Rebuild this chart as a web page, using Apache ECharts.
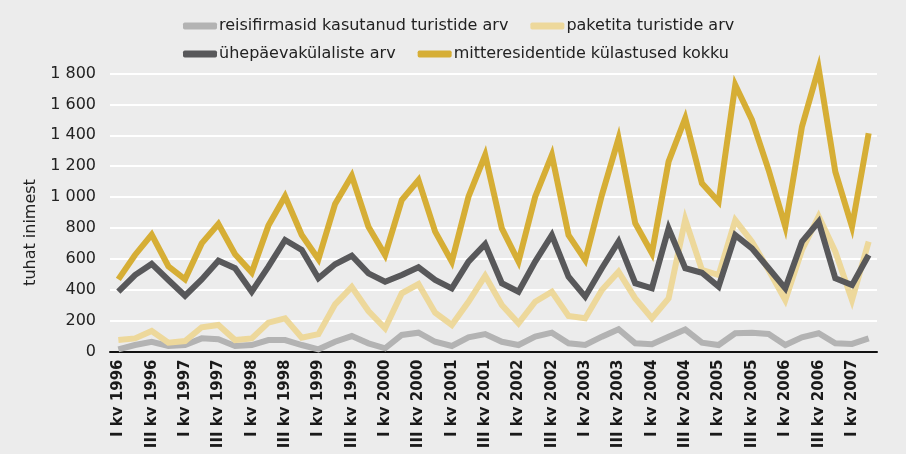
<!DOCTYPE html>
<html>
<head>
<meta charset="utf-8">
<script src="https://cdn.jsdelivr.net/npm/echarts@6/dist/echarts.min.js"></script>
<style>
html,body{margin:0;padding:0;background:#ececec;}
#chart{width:906px;height:454px;}
</style>
</head>
<body>
<div id="chart"></div>
<script>
// Categories (quarters)
var categories = [
  "I kv 1996","II kv 1996","III kv 1996","IV kv 1996",
  "I kv 1997","II kv 1997","III kv 1997","IV kv 1997",
  "I kv 1998","II kv 1998","III kv 1998","IV kv 1998",
  "I kv 1999","II kv 1999","III kv 1999","IV kv 1999",
  "I kv 2000","II kv 2000","III kv 2000","IV kv 2000",
  "I kv 2001","II kv 2001","III kv 2001","IV kv 2001",
  "I kv 2002","II kv 2002","III kv 2002","IV kv 2002",
  "I kv 2003","II kv 2003","III kv 2003","IV kv 2003",
  "I kv 2004","II kv 2004","III kv 2004","IV kv 2004",
  "I kv 2005","II kv 2005","III kv 2005","IV kv 2005",
  "I kv 2006","II kv 2006","III kv 2006","IV kv 2006",
  "I kv 2007","II kv 2007"
];

// Series names
var nameTourFirm = "reisifirmasid kasutanud turistide arv";
var namePackageless = "paketita turistide arv";
var nameDayVisitors = "ühepäevakülaliste arv";
var nameTotal = "mitteresidentide külastused kokku";

// Values (thousand persons)
var tourFirm = [14,42,63,36, 42,85,79,36, 42,74,74,42, 14,63,100,53, 21,107,122,63, 36,92,113,63, 42,96,122,53, 42,96,144,53, 47,96,142,57, 42,118,122,113, 42,92,118,53, 49,85];
var packageless = [74,85,133,57, 68,157,172,74, 85,187,215,90, 112,305,418,262, 150,377,437,251, 172,322,490,301, 183,322,387,230, 215,398,517,344, 215,344,855,528, 495,850,711,528, 333,657,875,646, 333,711];
var dayVisitors = [387,495,567,463, 361,467,588,539, 387,549,722,657, 474,565,620,506, 452,495,545,463, 409,582,695,442, 387,582,754,484, 355,539,711,442, 409,797,539,510, 420,754,668,539, 409,711,840,474, 430,625];
var totalVisits = [467,625,757,552, 467,700,825,630, 512,815,1005,754, 598,955,1138,808, 625,981,1110,776, 582,1002,1272,797, 582,1002,1272,754, 592,1013,1380,830, 636,1229,1510,1089, 970,1726,1499,1175, 808,1456,1834,1164, 808,1413];

// Axis settings
var yMin = 0, yMax = 1800, yStep = 200;
var yAxisTitle = "tuhat inimest";

var FONT = "DejaVu Sans";
var TXT = "#222222";

function fmt(v){
  if (v >= 1000) { var r = String(v % 1000); while (r.length < 3) r = "0" + r; return Math.floor(v/1000) + " " + r; }
  return String(v);
}

function lineSeries(name, data, color){
  return {
    name: name, type: 'line', data: data, symbol: 'none', clip: false,
    lineStyle: { color: color, width: 6, join: 'miter', cap: 'butt' },
    itemStyle: { color: color },
    emphasis: { disabled: true }
  };
}

var chart = echarts.init(document.getElementById('chart'), null, {renderer:'canvas'});
var legendCommon = {
  orient: 'horizontal', icon: 'roundRect', itemWidth: 34, itemHeight: 7, itemGap: 22,
  textStyle: { fontFamily: FONT, fontSize: 16, color: TXT, padding: [0,0,0,-3] },
  selectedMode: false, left: 178
};
chart.setOption({
  backgroundColor: '#ececec',
  animation: false,
  legend: [
    Object.assign({}, legendCommon, { top: 13, data: [nameTourFirm, namePackageless] }),
    Object.assign({}, legendCommon, { top: 41, data: [nameDayVisitors, nameTotal] })
  ],
  grid: { left: 110, right: 29, top: 73.5, bottom: 102.5, containLabel: false },
  xAxis: {
    type: 'category', data: categories, boundaryGap: true,
    axisLine: { show: true, lineStyle: { color: '#111', width: 2 } },
    axisTick: { show: false },
    axisLabel: { interval: 1, rotate: 90, margin: 8, fontFamily: FONT, fontWeight: 'bold', fontSize: 15, color: '#1a1a1a' },
    splitLine: { show: false }
  },
  yAxis: {
    type: 'value', min: yMin, max: yMax, interval: yStep,
    name: yAxisTitle, nameLocation: 'middle', nameGap: 68, nameRotate: 90,
    nameTextStyle: { fontFamily: FONT, fontSize: 16, color: TXT, padding: [0, 40, 0, 0] },
    axisLine: { show: false }, axisTick: { show: false },
    axisLabel: { formatter: fmt, margin: 14, fontFamily: FONT, fontSize: 16, color: TXT },
    splitLine: { show: true, lineStyle: { color: '#ffffff', width: 2 } }
  },
  series: [
    lineSeries(nameTourFirm, tourFirm, '#b3b3b3'),
    lineSeries(namePackageless, packageless, '#edd89b'),
    lineSeries(nameDayVisitors, dayVisitors, '#58585a'),
    lineSeries(nameTotal, totalVisits, '#d6ae35')
  ]
});
</script>
</body>
</html>
